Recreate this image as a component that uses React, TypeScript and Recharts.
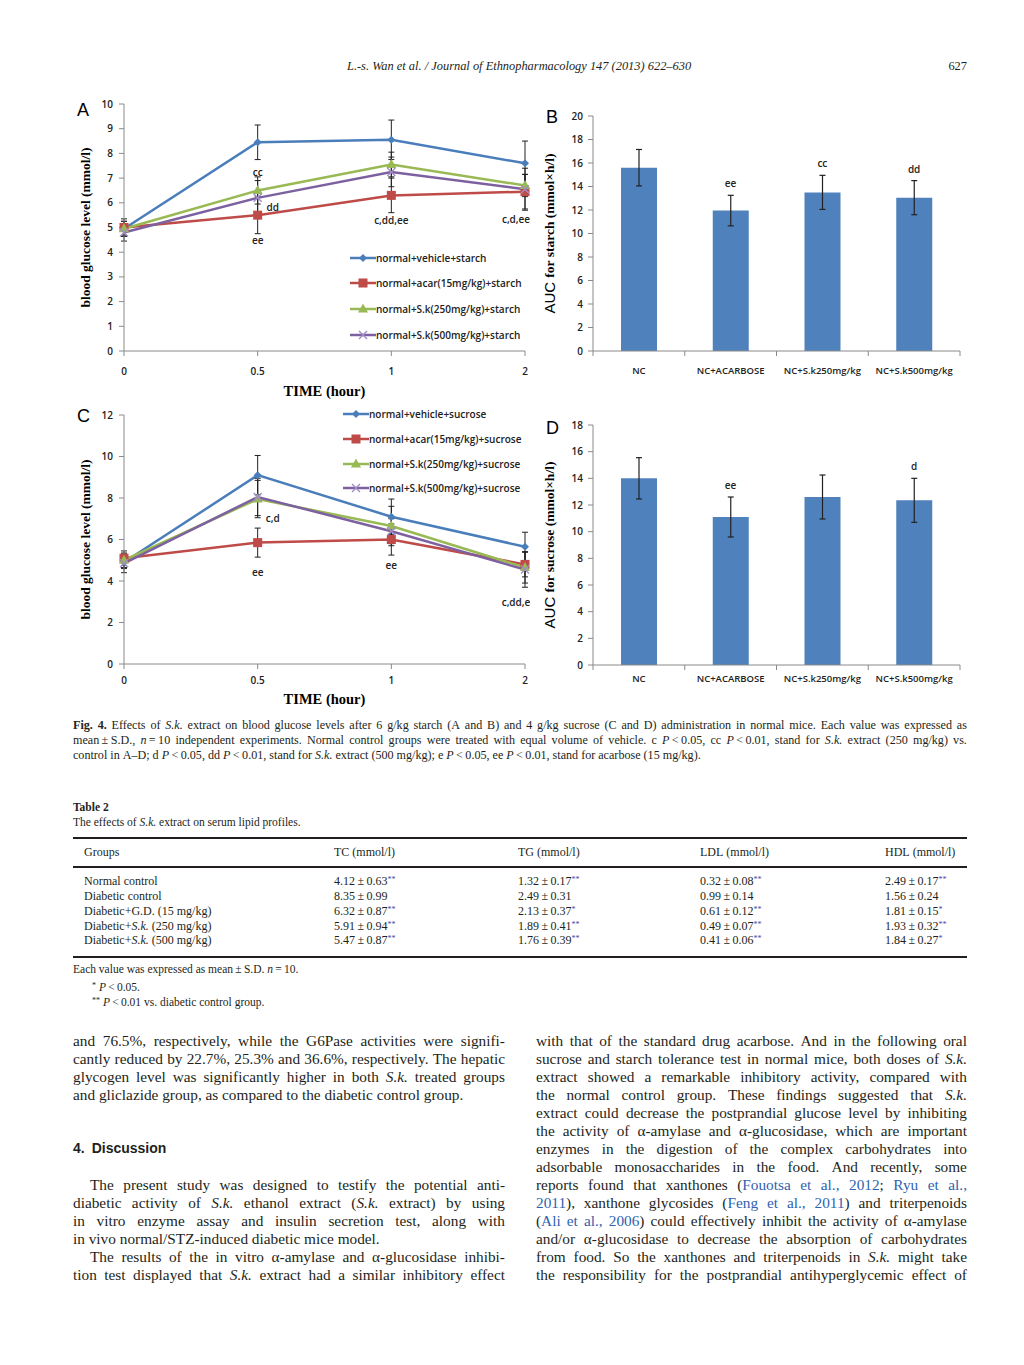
import React from "react";
import {
  LineChart,
  Line,
  BarChart,
  Bar,
  XAxis,
  YAxis,
  ErrorBar,
  Legend,
  ReferenceDot,
} from "recharts";

// time points of the tolerance tests (hour), drawn as evenly spaced categories
const TIME = ["0", "0.5", "1", "2"];

// Fig. 4A - starch load, blood glucose (mmol/l): mean and S.D.
const starchVehicle = [4.95, 8.45, 8.55, 7.6];
const starchVehicleSD = [0.3, 0.7, 0.8, 0.9];
const starchAcar = [5.0, 5.5, 6.3, 6.45];
const starchAcarSD = [0.35, 0.75, 0.7, 0.7];
const starchSk250 = [4.95, 6.5, 7.55, 6.7];
const starchSk250SD = [0.3, 0.55, 0.5, 0.45];
const starchSk500 = [4.8, 6.2, 7.25, 6.55];
const starchSk500SD = [0.35, 0.7, 0.6, 0.85];

// Fig. 4C - sucrose load
const sucroseVehicle = [4.9, 9.1, 7.1, 5.65];
const sucroseVehicleSD = [0.3, 0.95, 0.85, 0.7];
const sucroseAcar = [5.1, 5.85, 6.0, 4.8];
const sucroseAcarSD = [0.35, 0.7, 0.75, 0.6];
const sucroseSk250 = [5.0, 7.95, 6.65, 4.65];
const sucroseSk250SD = [0.35, 0.9, 0.95, 0.75];
const sucroseSk500 = [4.85, 8.05, 6.4, 4.55];
const sucroseSk500SD = [0.45, 0.9, 0.6, 0.85];

const STARCH_NAMES = [
  "normal+vehicle+starch",
  "normal+acar(15mg/kg)+starch",
  "normal+S.k(250mg/kg)+starch",
  "normal+S.k(500mg/kg)+starch",
];
const SUCROSE_NAMES = [
  "normal+vehicle+sucrose",
  "normal+acar(15mg/kg)+sucrose",
  "normal+S.k(250mg/kg)+sucrose",
  "normal+S.k(500mg/kg)+sucrose",
];

// significance letters on the curves: time, glucose level they sit at, text
const starchNotes = [
  { time: "0.5", at: 7.25, text: "cc", side: "mid" },
  { time: "0.5", at: 5.85, text: "dd", side: "right" },
  { time: "0.5", at: 4.5, text: "ee", side: "mid" },
  { time: "1", at: 5.3, text: "c,dd,ee", side: "mid" },
  { time: "2", at: 5.35, text: "c,d,ee", side: "left" },
];
const sucroseNotes = [
  { time: "0.5", at: 7.05, text: "c,d", side: "right" },
  { time: "0.5", at: 4.45, text: "ee", side: "mid" },
  { time: "1", at: 4.75, text: "ee", side: "mid" },
  { time: "2", at: 3.0, text: "c,dd,e", side: "left" },
];

// Fig. 4B / 4D - area under the curve (mmol x h/l)
const GROUPS = ["NC", "NC+ACARBOSE", "NC+S.k250mg/kg", "NC+S.k500mg/kg"];
const starchAUC = [15.6, 11.95, 13.5, 13.05];
const starchAUCSD = [1.55, 1.3, 1.45, 1.45];
const starchAUCMarks = ["", "ee", "cc", "dd"];
const sucroseAUC = [14.0, 11.1, 12.6, 12.35];
const sucroseAUCSD = [1.55, 1.5, 1.65, 1.65];
const sucroseAUCMarks = ["", "ee", "", "d"];

const SERIES = [
  { key: "vehicle", color: "#4A7EBB", mark: "#4A7EBB", shape: "diamond" },
  { key: "acar", color: "#BE4B48", mark: "#BE4B48", shape: "square" },
  { key: "sk250", color: "#98B954", mark: "#98B954", shape: "triangle" },
  { key: "sk500", color: "#7D60A0", mark: "#A08CC6", shape: "cross" },
];

function curveRows(values: number[][], sds: number[][]) {
  return TIME.map((time, i) => {
    const row: Record<string, string | number> = { time };
    SERIES.forEach((s, k) => {
      row[s.key] = values[k][i];
      row[s.key + "SD"] = sds[k][i];
    });
    return row;
  });
}

const starchRows = curveRows(
  [starchVehicle, starchAcar, starchSk250, starchSk500],
  [starchVehicleSD, starchAcarSD, starchSk250SD, starchSk500SD]
);
const sucroseRows = curveRows(
  [sucroseVehicle, sucroseAcar, sucroseSk250, sucroseSk500],
  [sucroseVehicleSD, sucroseAcarSD, sucroseSk250SD, sucroseSk500SD]
);
const aucRows = (auc: number[], sd: number[], marks: string[]) =>
  GROUPS.map((group, i) => ({ group, auc: auc[i], sd: sd[i], mark: marks[i] }));
const starchAUCRows = aucRows(starchAUC, starchAUCSD, starchAUCMarks);
const sucroseAUCRows = aucRows(sucroseAUC, sucroseAUCSD, sucroseAUCMarks);

// ---- styles ----
const SERIF = '"Liberation Serif", "Times New Roman", serif';
const SANS = '"Open Sans", "Noto Sans", sans-serif';
const INK = "#231F20";
const LINK = "#2F62B0";
const AXIS = "#8A8A8A";
const TICK = { fill: "#222", fontSize: 10, fontFamily: SANS, fontWeight: 600 };

function Marker({ shape, cx, cy, color }: any) {
  if (cx == null || cy == null) return null;
  if (shape === "diamond")
    return <path d={`M${cx} ${cy - 4} L${cx + 4} ${cy} L${cx} ${cy + 4} L${cx - 4} ${cy} Z`} fill={color} />;
  if (shape === "square") return <rect x={cx - 4.5} y={cy - 4.5} width={9} height={9} fill={color} />;
  if (shape === "triangle")
    return <path d={`M${cx} ${cy - 5.5} L${cx + 5} ${cy + 3.5} L${cx - 5} ${cy + 3.5} Z`} fill={color} />;
  return (
    <path
      d={`M${cx - 4} ${cy - 4} L${cx + 4} ${cy + 4} M${cx + 4} ${cy - 4} L${cx - 4} ${cy + 4}`}
      stroke={color}
      strokeWidth={1.4}
      fill="none"
    />
  );
}

function YTitle({ viewBox, pre, text }: any) {
  if (!viewBox) return null;
  const cx = viewBox.x + viewBox.width / 2;
  const cy = viewBox.y + viewBox.height / 2;
  return (
    <text
      x={cx}
      y={cy}
      transform={`rotate(-90 ${cx} ${cy})`}
      textAnchor="middle"
      dominantBaseline="central"
      fill="#000"
      fontFamily={SERIF}
      fontWeight={700}
      fontSize={13.5}
    >
      {pre ? (
        <tspan fontFamily='"Liberation Sans", Arial, sans-serif' fontWeight={400} fontSize={15}>
          {pre}
        </tspan>
      ) : null}
      <tspan>{text}</tspan>
    </text>
  );
}

// legend rows always follow the series order of the figure
function CurveLegend({ names, rowH }: any) {
  return (
    <div>
      {SERIES.map((s, k) => (
        <div key={s.key} style={{ display: "flex", alignItems: "center", height: rowH }}>
          <svg width={26} height={12} style={{ display: "block" }}>
            <line x1={0} x2={26} y1={6} y2={6} stroke={s.color} strokeWidth={2.5} />
            <Marker shape={s.shape} cx={13} cy={6} color={s.mark} />
          </svg>
          <span style={{ fontFamily: SANS, fontWeight: 600, fontSize: 10, color: "#222", whiteSpace: "nowrap" }}>
            {names[k]}
          </span>
        </div>
      ))}
    </div>
  );
}

function GlucoseChart({ rows, names, notes, yMax, yTicks, left, top, height, marginTop, tickGap, titleOffset, legendAt, rowH }: any) {
  return (
    <div style={{ position: "absolute", left, top }}>
      <LineChart width={490} height={height} data={rows} margin={{ top: marginTop, right: 11, bottom: 0, left: 0 }}>
        <XAxis
          dataKey="time"
          scale="point"
          padding={{ left: 0, right: 0 }}
          height={54}
          axisLine={{ stroke: AXIS }}
          tickLine={{ stroke: AXIS }}
          tickSize={5}
          tickMargin={tickGap}
          tick={TICK}
          label={{
            value: "TIME (hour)",
            position: "insideBottom",
            offset: titleOffset,
            fill: "#000",
            fontSize: 14.5,
            fontWeight: 700,
            fontFamily: SERIF,
          }}
        />
        <YAxis
          type="number"
          domain={[0, yMax]}
          ticks={yTicks}
          interval={0}
          width={78}
          axisLine={{ stroke: AXIS }}
          tickLine={{ stroke: AXIS }}
          tickSize={5}
          tickMargin={6}
          tick={TICK}
          label={(p: any) => <YTitle viewBox={p.viewBox} text="blood glucose level (mmol/l)" />}
        />
        {SERIES.map((s, k) => (
          <Line
            key={s.key}
            type="linear"
            dataKey={s.key}
            name={names[k]}
            stroke={s.color}
            strokeWidth={2.5}
            dot={(p: any) => <Marker key={`${s.key}-${p.index}`} shape={s.shape} cx={p.cx} cy={p.cy} color={s.mark} />}
            activeDot={false}
            isAnimationActive={false}
          >
            <ErrorBar dataKey={s.key + "SD"} direction="y" width={3} stroke="#222" strokeWidth={1} />
          </Line>
        ))}
        <Legend
          layout="vertical"
          align="center"
          verticalAlign="middle"
          wrapperStyle={{ left: legendAt[0], top: legendAt[1], width: "auto" }}
          content={() => <CurveLegend names={names} rowH={rowH} />}
        />
        {notes.map((n: any, i: number) => (
          <ReferenceDot
            key={i}
            x={n.time}
            y={n.at}
            r={2}
            ifOverflow="visible"
            shape={(p: any) => (
              <text
                x={p.cx + (n.side === "right" ? 15 : n.side === "left" ? -9 : 0)}
                y={p.cy}
                textAnchor="middle"
                dominantBaseline="central"
                fontFamily={SANS}
                fontWeight={600}
                fontSize={10}
                fill="#222"
              >
                {n.text}
              </text>
            )}
          />
        ))}
      </LineChart>
    </div>
  );
}

const BAR_PLOT_W = 367;

function GroupTick({ x, y, payload, index, gap }: any) {
  const half = BAR_PLOT_W / GROUPS.length / 2;
  const axisY = y - gap;
  return (
    <g>
      <line x1={x - half} x2={x - half} y1={axisY} y2={axisY + 5} stroke={AXIS} />
      {index === GROUPS.length - 1 ? (
        <line x1={x + half} x2={x + half} y1={axisY} y2={axisY + 5} stroke={AXIS} />
      ) : null}
      <text x={x} y={y} dy="0.71em" textAnchor="middle" fill="#222" fontFamily={SANS} fontWeight={600} fontSize={9.5}>
        {payload.value}
      </text>
    </g>
  );
}

function AUCChart({ rows, title, yMax, yTicks, left, top, height, marginTop, tickGap }: any) {
  return (
    <div style={{ position: "absolute", left, top }}>
      <BarChart width={470} height={height} data={rows} margin={{ top: marginTop, right: 15, bottom: 0, left: 0 }} barSize={36}>
        <XAxis
          dataKey="group"
          height={40}
          interval={0}
          axisLine={{ stroke: AXIS }}
          tickLine={false}
          tickSize={0}
          tickMargin={tickGap}
          tick={(p: any) => <GroupTick {...p} gap={tickGap} />}
        />
        <YAxis
          type="number"
          domain={[0, yMax]}
          ticks={yTicks}
          interval={0}
          width={88}
          axisLine={{ stroke: AXIS }}
          tickLine={{ stroke: AXIS }}
          tickSize={5}
          tickMargin={5}
          tick={TICK}
          label={(p: any) => <YTitle viewBox={p.viewBox} pre="AUC " text={title} />}
        />
        <Bar dataKey="auc" fill="#4F81BD" isAnimationActive={false}>
          <ErrorBar dataKey="sd" direction="y" width={3} stroke="#222" strokeWidth={1.2} />
        </Bar>
        {rows
          .filter((r: any) => r.mark)
          .map((r: any) => (
            <ReferenceDot
              key={r.group}
              x={r.group}
              y={r.auc + r.sd}
              r={2}
              ifOverflow="visible"
              shape={(p: any) => (
                <text
                  x={p.cx}
                  y={p.cy - 12}
                  textAnchor="middle"
                  dominantBaseline="central"
                  fontFamily={SANS}
                  fontWeight={600}
                  fontSize={10}
                  fill="#222"
                >
                  {r.mark}
                </text>
              )}
            />
          ))}
      </BarChart>
    </div>
  );
}

// ---- page text ----
type Piece = { t: string; b: boolean; i: boolean; l: boolean };

// tiny markup: *bold*  _italic_  [link]
function parseWords(src: string): Piece[][] {
  const words: Piece[][] = [];
  let cur: Piece[] = [];
  let buf = "";
  let b = false,
    it = false,
    l = false;
  const flush = () => {
    if (buf) cur.push({ t: buf, b, i: it, l });
    buf = "";
  };
  for (const ch of src) {
    if (ch === "*") {
      flush();
      b = !b;
    } else if (ch === "_") {
      flush();
      it = !it;
    } else if (ch === "[") {
      flush();
      l = true;
    } else if (ch === "]") {
      flush();
      l = false;
    } else if (ch === " ") {
      flush();
      if (cur.length) words.push(cur);
      cur = [];
    } else buf += ch;
  }
  flush();
  if (cur.length) words.push(cur);
  return words;
}

function TextLine({ src, x, c, w, size, justify = true, family = SERIF, weight = 400, color = INK }: any) {
  return (
    <div
      style={{
        position: "absolute",
        left: x,
        top: c - 0.61 * size,
        width: w,
        display: "flex",
        justifyContent: justify ? "space-between" : "flex-start",
        columnGap: justify ? "0.12em" : "0.25em",
        whiteSpace: "nowrap",
        fontFamily: family,
        fontSize: size,
        fontWeight: weight,
        lineHeight: 1,
        color,
      }}
    >
      {parseWords(src).map((word, k) => (
        <span key={k}>
          {word.map((p, j) => (
            <span
              key={j}
              style={{
                fontWeight: p.b ? 700 : undefined,
                fontStyle: p.i ? "italic" : undefined,
                color: p.l ? LINK : undefined,
              }}
            >
              {p.t}
            </span>
          ))}
        </span>
      ))}
    </div>
  );
}

const CAPTION = [
  "*Fig. 4.* Effects of _S.k._ extract on blood glucose levels after 6 g/kg starch (A and B) and 4 g/kg sucrose (C and D) administration in normal mice. Each value was expressed as",
  "mean\u2009±\u2009S.D., _n_\u2009=\u200910 independent experiments. Normal control groups were treated with equal volume of vehicle. c _P_\u2009<\u20090.05, cc _P_\u2009<\u20090.01, stand for _S.k._ extract (250 mg/kg) vs.",
  "control in A–D; d _P_\u2009<\u20090.05, dd _P_\u2009<\u20090.01, stand for _S.k._ extract (500 mg/kg); e _P_\u2009<\u20090.05, ee _P_\u2009<\u20090.01, stand for acarbose (15 mg/kg).",
];

const TABLE_HEAD = ["Groups", "TC (mmol/l)", "TG (mmol/l)", "LDL (mmol/l)", "HDL (mmol/l)"];
const TABLE_COLS = [84, 334, 518, 700, 885];
const TABLE_ROWS = [
  ["Normal control", "4.12\u2009±\u20090.63**", "1.32\u2009±\u20090.17**", "0.32\u2009±\u20090.08**", "2.49\u2009±\u20090.17**"],
  ["Diabetic control", "8.35\u2009±\u20090.99", "2.49\u2009±\u20090.31", "0.99\u2009±\u20090.14", "1.56\u2009±\u20090.24"],
  ["Diabetic+G.D. (15 mg/kg)", "6.32\u2009±\u20090.87**", "2.13\u2009±\u20090.37*", "0.61\u2009±\u20090.12**", "1.81\u2009±\u20090.15*"],
  ["Diabetic+_S.k._ (250 mg/kg)", "5.91\u2009±\u20090.94**", "1.89\u2009±\u20090.41**", "0.49\u2009±\u20090.07**", "1.93\u2009±\u20090.32**"],
  ["Diabetic+_S.k._ (500 mg/kg)", "5.47\u2009±\u20090.87**", "1.76\u2009±\u20090.39**", "0.41\u2009±\u20090.06**", "1.84\u2009±\u20090.27*"],
];
const TABLE_ROW_Y = [882, 897, 912, 927, 941];

const LEFT_TEXT = [
  { c: 1042, s: "and 76.5%, respectively, while the G6Pase activities were signifi-" },
  { c: 1060, s: "cantly reduced by 22.7%, 25.3% and 36.6%, respectively. The hepatic" },
  { c: 1078, s: "glycogen level was significantly higher in both _S.k._ treated groups" },
  { c: 1096, s: "and gliclazide group, as compared to the diabetic control group.", last: true },
  { c: 1186, s: "The present study was designed to testify the potential anti-", indent: true },
  { c: 1204, s: "diabetic activity of _S.k._ ethanol extract (_S.k._ extract) by using" },
  { c: 1222, s: "in vitro enzyme assay and insulin secretion test, along with" },
  { c: 1240, s: "in vivo normal/STZ-induced diabetic mice model.", last: true },
  { c: 1258, s: "The results of the in vitro α-amylase and α-glucosidase inhibi-", indent: true },
  { c: 1276, s: "tion test displayed that _S.k._ extract had a similar inhibitory effect" },
];

const RIGHT_TEXT = [
  "with that of the standard drug acarbose. And in the following oral",
  "sucrose and starch tolerance test in normal mice, both doses of _S.k._",
  "extract showed a remarkable inhibitory activity, compared with",
  "the normal control group. These findings suggested that _S.k._",
  "extract could decrease the postprandial glucose level by inhibiting",
  "the activity of α-amylase and α-glucosidase, which are important",
  "enzymes in the digestion of the complex carbohydrates into",
  "adsorbable monosaccharides in the food. And recently, some",
  "reports found that xanthones ([Fouotsa et al., 2012]; [Ryu et al.,]",
  "[2011]), xanthone glycosides ([Feng et al., 2011]) and triterpenoids",
  "([Ali et al., 2006]) could effectively inhibit the activity of α-amylase",
  "and/or α-glucosidase to decrease the absorption of carbohydrates",
  "from food. So the xanthones and triterpenoids in _S.k._ might take",
  "the responsibility for the postprandial antihyperglycemic effect of",
];

const BODY = 15.3;
const CAP = 12.1;

function ValueCell({ v, x, c }: any) {
  const m = v.match(/^(.*?)(\*+)?$/);
  return (
    <div
      style={{
        position: "absolute",
        left: x,
        top: c - 0.61 * 12,
        fontFamily: SERIF,
        fontSize: 12,
        lineHeight: 1,
        color: INK,
        whiteSpace: "nowrap",
      }}
    >
      {m[1]}
      {m[2] ? <span style={{ color: "#4A4AA8", fontSize: 8, verticalAlign: "3px" }}>{m[2]}</span> : null}
    </div>
  );
}

function Rule({ y, h }: any) {
  return <div style={{ position: "absolute", left: 73, top: y, width: 894, height: h, background: INK }} />;
}

const letter = (t: string, x: number, y: number) => (
  <div
    style={{
      position: "absolute",
      left: x,
      top: y,
      fontFamily: '"Liberation Sans", Arial, sans-serif',
      fontSize: 18,
      lineHeight: 1,
      color: "#000",
    }}
  >
    {t}
  </div>
);

export default function App() {
  return (
    <div style={{ position: "relative", width: 1024, height: 1365, background: "#fff", overflow: "hidden" }}>
      <style>{`body{margin:0}`}</style>

      <TextLine
        src={"_L.-s. Wan et al. / Journal of Ethnopharmacology 147 (2013) 622–630_"}
        x={347}
        c={68}
        w={400}
        size={12.4}
        justify={false}
      />
      <div style={{ position: "absolute", right: 57, top: 68 - 0.61 * 12.4, fontFamily: SERIF, fontSize: 12.4, lineHeight: 1, color: INK }}>
        627
      </div>

      <GlucoseChart
        rows={starchRows}
        names={STARCH_NAMES}
        notes={starchNotes}
        yMax={10}
        yTicks={[0, 1, 2, 3, 4, 5, 6, 7, 8, 9, 10]}
        left={46}
        top={95}
        height={310}
        marginTop={9}
        tickGap={11.5}
        titleOffset={9}
        legendAt={[304, 150]}
        rowH={25.6}
      />
      <AUCChart
        rows={starchAUCRows}
        title="for starch (mmol×h/l)"
        yMax={20}
        yTicks={[0, 2, 4, 6, 8, 10, 12, 14, 16, 18, 20]}
        left={505}
        top={100}
        height={291}
        marginTop={16}
        tickGap={16.5}
      />
      <GlucoseChart
        rows={sucroseRows}
        names={SUCROSE_NAMES}
        notes={sucroseNotes}
        yMax={12}
        yTicks={[0, 2, 4, 6, 8, 10, 12]}
        left={46}
        top={400}
        height={318}
        marginTop={15}
        tickGap={7.5}
        titleOffset={14}
        legendAt={[297, 2]}
        rowH={24.7}
      />
      <AUCChart
        rows={sucroseAUCRows}
        title="for sucrose (mmol×h/l)"
        yMax={18}
        yTicks={[0, 2, 4, 6, 8, 10, 12, 14, 16, 18]}
        left={505}
        top={410}
        height={295}
        marginTop={15}
        tickGap={10.5}
      />
      {letter("A", 77, 101)}
      {letter("B", 546, 108)}
      {letter("C", 77, 407)}
      {letter("D", 546, 419)}

      {CAPTION.map((s, k) => (
        <TextLine key={k} src={s} x={73} c={726 + 15 * k} w={894} size={CAP} justify={k < CAPTION.length - 1} />
      ))}

      <TextLine src={"*Table 2*"} x={73} c={809} w={200} size={11.5} justify={false} />
      <TextLine src={"The effects of _S.k._ extract on serum lipid profiles."} x={73} c={824} w={500} size={11.5} justify={false} />
      <Rule y={837} h={2} />
      {TABLE_HEAD.map((h, k) => (
        <TextLine key={h} src={h} x={TABLE_COLS[k]} c={853} w={200} size={12} justify={false} />
      ))}
      <Rule y={866} h={1.5} />
      {TABLE_ROWS.map((row, r) =>
        row.map((cell, k) =>
          k === 0 ? (
            <TextLine key={`${r}-${k}`} src={cell} x={TABLE_COLS[0]} c={TABLE_ROW_Y[r]} w={240} size={12} justify={false} />
          ) : (
            <ValueCell key={`${r}-${k}`} v={cell} x={TABLE_COLS[k]} c={TABLE_ROW_Y[r]} />
          )
        )
      )}
      <Rule y={956} h={2} />
      <TextLine
        src={"Each value was expressed as mean\u2009±\u2009S.D. _n_\u2009=\u200910."}
        x={73}
        c={971}
        w={400}
        size={11.5}
        justify={false}
      />
      <div style={{ position: "absolute", left: 92, top: 989 - 7, fontFamily: SERIF, fontSize: 11.5, lineHeight: 1, color: INK, whiteSpace: "nowrap" }}>
        <span style={{ fontSize: 8, verticalAlign: "3px" }}>*</span> <i>P</i>
        {"\u2009<\u20090.05."}
      </div>
      <div style={{ position: "absolute", left: 92, top: 1004 - 7, fontFamily: SERIF, fontSize: 11.5, lineHeight: 1, color: INK, whiteSpace: "nowrap" }}>
        <span style={{ fontSize: 8, verticalAlign: "3px" }}>**</span> <i>P</i>
        {"\u2009<\u20090.01 vs. diabetic control group."}
      </div>

      {LEFT_TEXT.map((l, k) => (
        <TextLine
          key={k}
          src={l.s}
          x={l.indent ? 90 : 73}
          c={l.c}
          w={l.indent ? 415 : 432}
          size={BODY}
          justify={!l.last}
        />
      ))}
      <TextLine
        src={"4.\u2002Discussion"}
        x={73}
        c={1150}
        w={200}
        size={14}
        justify={false}
        family='"Liberation Sans", Arial, sans-serif'
        weight={700}
      />
      {RIGHT_TEXT.map((s, k) => (
        <TextLine key={k} src={s} x={536} c={1042 + 18 * k} w={431} size={BODY} />
      ))}
    </div>
  );
}
